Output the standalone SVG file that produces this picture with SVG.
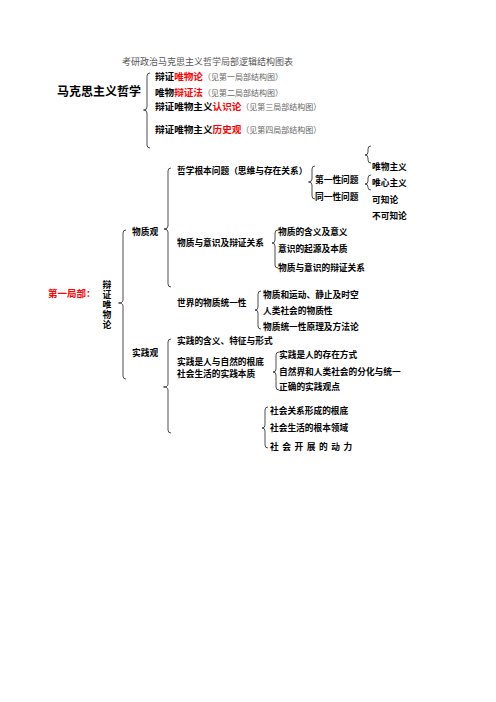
<svg xmlns="http://www.w3.org/2000/svg" width="496" height="702" viewBox="0 0 496 702">
<style>
text{font-family:"Noto Sans CJK SC","Liberation Sans",sans-serif;}
.n{font-size:8.7px;font-weight:bold;fill:#000;}
.h{font-size:9.6px;font-weight:bold;fill:#000;}
.r{fill:#f00;}
.g{font-size:8px;font-weight:normal;fill:#666;}
.br{fill:none;stroke:#000;stroke-width:0.7;}
</style>
<rect width="496" height="702" fill="#fff"/>
<g id="title"><text x="122" y="65" style="font-size:9px;fill:#555">考研政治马克思主义哲学局部逻辑结构图表</text></g>
<g id="root"><text x="57" y="96" style="font-size:12px;font-weight:bold">马克思主义哲学</text></g>
<g id="part1"><text x="155" y="80.4" class="h">辩证<tspan class="r">唯物论</tspan><tspan class="g">（见第一局部结构图）</tspan></text></g>
<g id="part2"><text x="155" y="95.8" class="h">唯物<tspan class="r">辩证法</tspan><tspan class="g">（见第二局部结构图）</tspan></text></g>
<g id="part3"><text x="155" y="110" class="h">辩证唯物主义<tspan class="r">认识论</tspan><tspan class="g">（见第三局部结构图）</tspan></text></g>
<g id="part4"><text x="155" y="133.4" class="h">辩证唯物主义<tspan class="r">历史观</tspan><tspan class="g">（见第四局部结构图）</tspan></text></g>
<g id="section"><text x="48" y="296.5" style="font-size:9.5px;font-weight:bold;fill:#f00">第一局部：</text></g>
<g id="bzwwl"><text x="107" y="280.6" style="font-size:8.8px;font-weight:bold;writing-mode:vertical-rl;letter-spacing:1px">辩证唯物论</text></g>
<g id="wzg"><text x="132" y="235" class="n">物质观</text></g>
<g id="sjg"><text x="132" y="356" class="n">实践观</text></g>
<g id="zxgbwt"><text x="177" y="174" class="n">哲学根本问题（思维与存在关系）</text></g>
<g id="dyxwt"><text x="315" y="183" class="n">第一性问题</text></g>
<g id="tyxwt"><text x="315" y="200" class="n">同一性问题</text></g>
<g id="wwzy"><text x="372" y="170" class="n">唯物主义</text></g>
<g id="wxzy"><text x="372" y="186" class="n">唯心主义</text></g>
<g id="kzl"><text x="372" y="203" class="n">可知论</text></g>
<g id="bkzl"><text x="372" y="219" class="n">不可知论</text></g>
<g id="wzyys"><text x="177" y="246" class="n">物质与意识及辩证关系</text></g>
<g id="wzhy"><text x="278" y="235" class="n">物质的含义及意义</text></g>
<g id="ysqy"><text x="278" y="252" class="n">意识的起源及本质</text></g>
<g id="wzysbz"><text x="278" y="271" class="n">物质与意识的辩证关系</text></g>
<g id="sjwztyx"><text x="177" y="306" class="n">世界的物质统一性</text></g>
<g id="wzhyd"><text x="263" y="298" class="n">物质和运动、静止及时空</text></g>
<g id="rlshwzx"><text x="263" y="314" class="n">人类社会的物质性</text></g>
<g id="wztyxyl"><text x="263" y="330" class="n">物质统一性原理及方法论</text></g>
<g id="sjhy"><text x="177" y="344" class="n">实践的含义、特征与形式</text></g>
<g id="sjsr"><text x="177" y="365" class="n">实践是人与自然的根底</text><text x="177" y="377" class="n">社会生活的实践本质</text></g>
<g id="sjsrdcz"><text x="279" y="358" class="n">实践是人的存在方式</text></g>
<g id="zrjfh"><text x="279" y="375" class="n">自然界和人类社会的分化与统一</text></g>
<g id="zqsjgd"><text x="279" y="390" class="n">正确的实践观点</text></g>
<g id="shgx"><text x="270" y="414" class="n">社会关系形成的根底</text></g>
<g id="shsh"><text x="270" y="431" class="n">社会生活的根本领域</text></g>
<g id="shfz"><text x="270" y="450" class="n" style="word-spacing:1.6px">社 会 开 展 的 动 力</text></g>
<g id="connectors" class="br">
<path d="M150 73 Q147 73 147 76 L147 107 Q147 110 143.5 110 Q147 110 147 113 L147 145 Q147 148 150 148"/>
<path d="M126 230 Q123 230 123 233 L123 300 Q123 303 118.5 303 Q123 303 123 306 L123 376 Q123 379 126 379"/>
<path d="M171 168 Q168 168 168 171 L168 226 Q168 229 164 229 Q168 229 168 232 L168 284 Q168 287 171 287"/>
<path d="M315 166 Q312 166 312 169 L312 179 Q312 182 308.5 182 Q312 182 312 185 L312 196 Q312 199 315 199"/>
<path d="M371 146 Q368 146 368 149 L368 152 Q368 155 365 155 Q368 155 368 158 L368 160 Q368 163 371 163"/>
<path d="M371 175 Q368 175 368 178 L368 181 Q368 184 365 184 Q368 184 368 187 L368 187.5 Q368 190 371 190"/>
<path d="M278 230 Q275 230 275 233 L275 240 Q275 243 272 243 Q275 243 275 246 L275 265 Q275 268 278 268"/>
<path d="M261 291 Q258 291 258 294 L258 307 Q258 310 255 310 Q258 310 258 313 L258 326 Q258 329 261 329"/>
<path d="M171 339 Q168 339 168 342 L168 384 Q168 387 163.5 387 Q168 387 168 390 L168 430 Q168 433 171 433"/>
<path d="M279 352 Q276 352 276 355 L276 369 Q276 372 273 372 Q276 372 276 375 L276 387 Q276 390 279 390"/>
<path d="M268 407 Q265 407 265 410 L265 425 Q265 428 262 428 Q265 428 265 431 L265 445 Q265 448 268 448"/>
</g>
</svg>
